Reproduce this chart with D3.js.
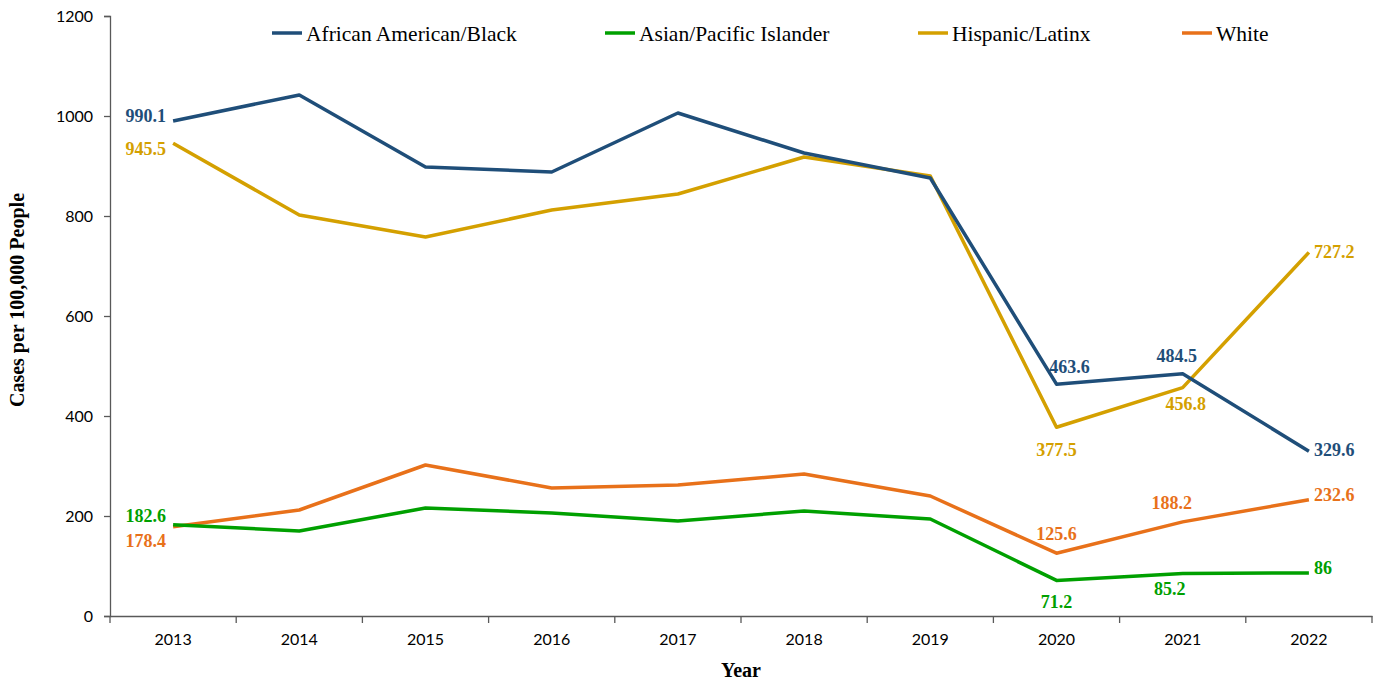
<!DOCTYPE html>
<html>
<head>
<meta charset="utf-8">
<script src="https://cdn.jsdelivr.net/npm/d3@7"></script>
<style>
  html, body { margin: 0; padding: 0; background: #fff; }
  svg { display: block; }
</style>
</head>
<body>
<svg id="chart" width="1382" height="681"></svg>
<script>
// Case rates per 100,000 people by race/ethnicity, 2013–2022
const years = ["2013", "2014", "2015", "2016", "2017", "2018", "2019", "2020", "2021", "2022"];
const seriesNames = ["African American/Black", "Asian/Pacific Islander", "Hispanic/Latinx", "White"];
const black    = [990.1, 1042, 898, 888, 1006, 926, 876, 463.6, 484.5, 329.6];
const asian    = [182.6, 170, 216, 206, 190, 210, 194, 71.2, 85.2, 86];
const hispanic = [945.5, 802, 758, 812, 844, 918, 880, 377.5, 456.8, 727.2];
const white    = [178.4, 212, 302, 256, 262, 284, 240, 125.6, 188.2, 232.6];
const yTicks   = [0, 200, 400, 600, 800, 1000, 1200];

const colors = ["#1f4e79", "#00a000", "#d4a000", "#e8711a"];
const values = [black, asian, hispanic, white];

// Which points carry a value label, and where the label sits relative to the point
const labelled = [
  // series index, year index, placement, dx, dy
  [0, 0, "left", -7, -5], [0, 7, "above", 13, -18], [0, 8, "above", -6, -18], [0, 9, "right", 5, -2],
  [1, 0, "left", -7, -9], [1, 7, "below", 0, 21], [1, 8, "below", -13, 15], [1, 9, "right", 5, -5],
  [2, 0, "left", -7, 5], [2, 7, "below", 0, 22], [2, 8, "below", 3, 16], [2, 9, "right", 5, -1],
  [3, 0, "left", -7, 14], [3, 7, "above", 0, -20], [3, 8, "above", -11, -19], [3, 9, "right", 5, -5]
];

const svg = d3.select("#chart");
const margin = { left: 110, right: 10, top: 16, bottom: 65 };
const W = 1382, H = 681;

const x = d3.scaleBand().domain(years).range([margin.left, W - margin.right]);
const y = d3.scaleLinear().domain([0, 1200]).range([H - margin.bottom, margin.top]);

// Y axis
const yAxis = svg.append("g")
  .attr("transform", `translate(${margin.left},0)`)
  .call(d3.axisLeft(y).tickValues(yTicks).tickSize(6).tickPadding(11).tickFormat(d3.format("d")));
yAxis.select(".domain").attr("stroke", "#595959").attr("stroke-width", 1.3);
yAxis.selectAll(".tick line").attr("stroke", "#595959").attr("stroke-width", 1.3);
yAxis.selectAll(".tick text")
  .attr("font-family", "Lato, 'Open Sans', sans-serif")
  .attr("font-size", 16).attr("fill", "#000");

// X axis: labels at band centres, tick marks at band edges
const xAxis = svg.append("g")
  .attr("transform", `translate(0,${y(0)})`)
  .call(d3.axisBottom(x).tickSize(0).tickPadding(18));
xAxis.select(".domain").attr("stroke", "#595959").attr("stroke-width", 1.5);
xAxis.selectAll(".tick text")
  .attr("font-family", "Lato, 'Open Sans', sans-serif")
  .attr("font-size", 16).attr("fill", "#000");
const edges = years.map(d => x(d)).concat([x(years[years.length - 1]) + x.bandwidth()]);
xAxis.selectAll("line.edge").data(edges).join("line")
  .attr("class", "edge")
  .attr("x1", d => d).attr("x2", d => d)
  .attr("y1", 0).attr("y2", 7)
  .attr("stroke", "#595959").attr("stroke-width", 1.3);

// Axis titles
svg.append("text")
  .attr("x", (margin.left + W - margin.right) / 2)
  .attr("y", 677)
  .attr("text-anchor", "middle")
  .attr("font-family", "'Liberation Serif', 'Times New Roman', serif")
  .attr("font-weight", "bold").attr("font-size", 20)
  .text("Year");
svg.append("text")
  .attr("transform", `translate(24,${300}) rotate(-90)`)
  .attr("text-anchor", "middle")
  .attr("font-family", "'Liberation Serif', 'Times New Roman', serif")
  .attr("font-weight", "bold").attr("font-size", 20)
  .text("Cases per 100,000 People");

// Lines
const line = d3.line()
  .x((d, i) => x(years[i]) + x.bandwidth() / 2)
  .y(d => y(d));

// Draw order: white, asian, hispanic, black
[3, 1, 2, 0].forEach(s => {
  svg.append("path")
    .datum(values[s])
    .attr("fill", "none")
    .attr("stroke", colors[s])
    .attr("stroke-width", 3.5)
    .attr("stroke-linejoin", "round")
    .attr("d", line);
});

// Value labels
const fmt = v => String(v);
svg.append("g").selectAll("text").data(labelled).join("text")
  .attr("x", d => x(years[d[1]]) + x.bandwidth() / 2 + d[3])
  .attr("y", d => y(values[d[0]][d[1]]) + d[4])
  .attr("dy", "0.35em")
  .attr("text-anchor", d => d[2] === "left" ? "end" : d[2] === "right" ? "start" : "middle")
  .attr("font-family", "'Liberation Serif', 'Times New Roman', serif")
  .attr("font-weight", "bold").attr("font-size", 18)
  .attr("fill", d => colors[d[0]])
  .text(d => fmt(values[d[0]][d[1]]));

// Legend
const legendX = [272, 605, 918, 1182];
const legend = svg.append("g").selectAll("g").data(seriesNames).join("g")
  .attr("transform", (d, i) => `translate(${legendX[i]},33)`);
legend.append("line")
  .attr("x1", 0).attr("x2", 30).attr("y1", 0).attr("y2", 0)
  .attr("stroke", (d, i) => colors[i]).attr("stroke-width", 3.5);
legend.append("text")
  .attr("x", 34).attr("dy", "0.35em")
  .attr("font-family", "'Liberation Serif', 'Times New Roman', serif")
  .attr("font-size", 21.5).attr("fill", "#000")
  .text(d => d);
</script>
</body>
</html>
